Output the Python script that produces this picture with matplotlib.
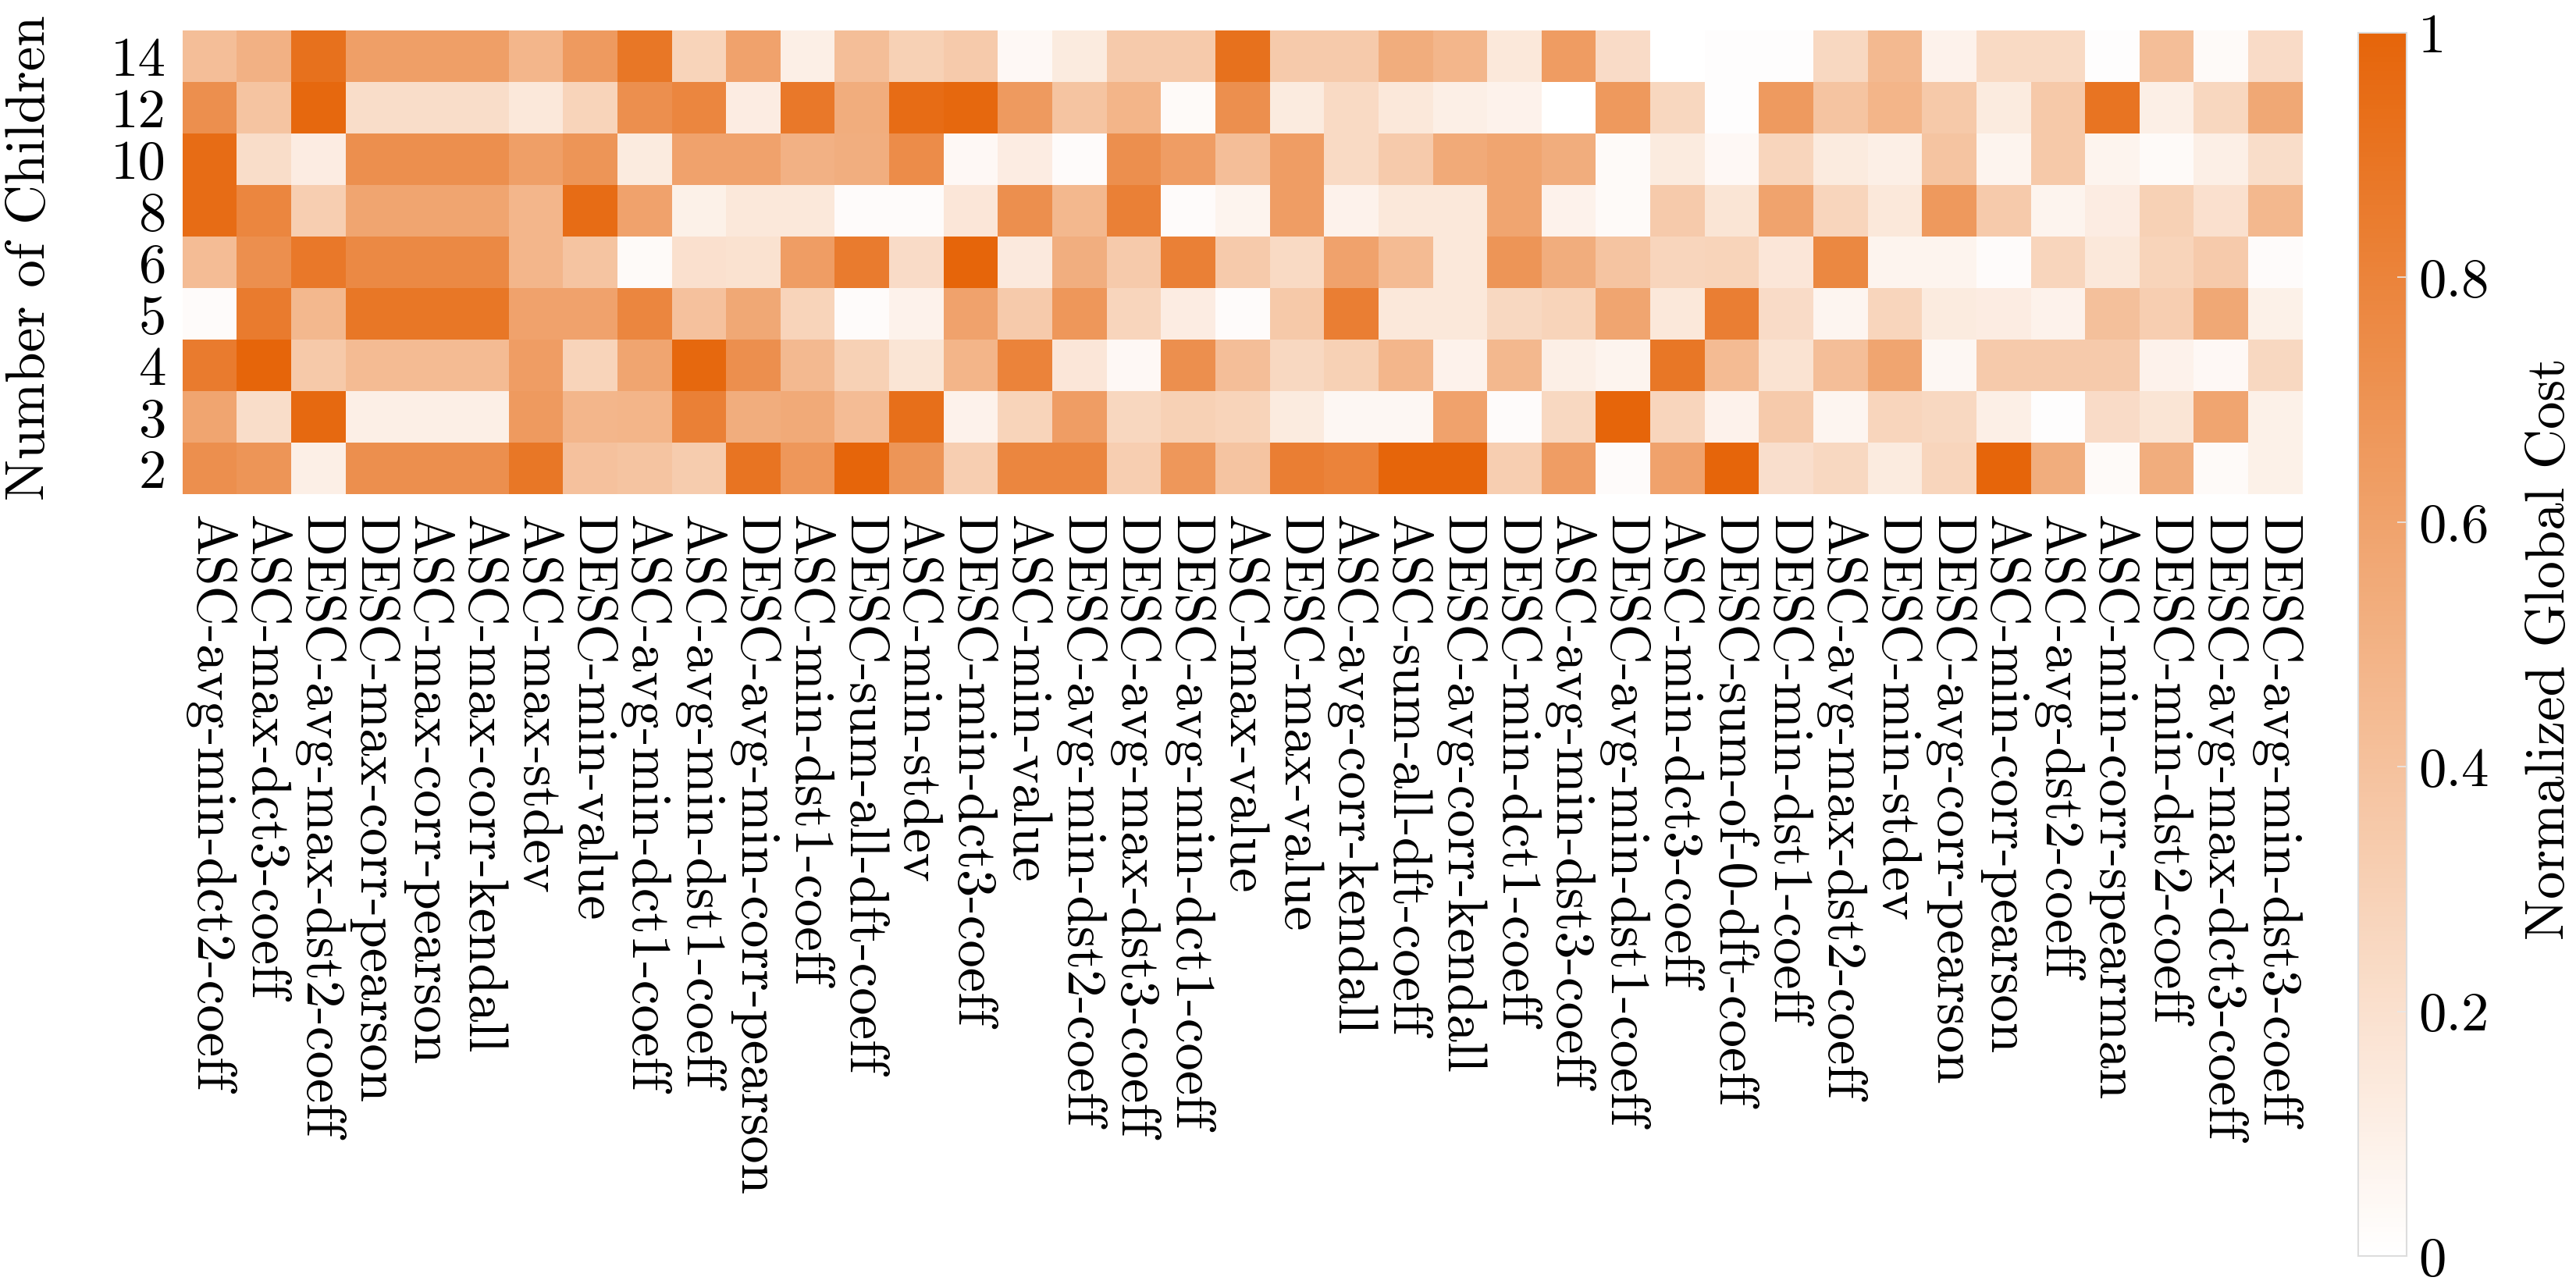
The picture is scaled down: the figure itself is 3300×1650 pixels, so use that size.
import matplotlib
matplotlib.use("Agg")
import matplotlib.pyplot as plt
import numpy as np
from matplotlib.colors import LinearSegmentedColormap

plt.rcParams['font.family'] = 'cmr10'
plt.rcParams['axes.formatter.use_mathtext'] = True

# heuristics (columns of the heatmap)
heuristics = [
    'ASC-avg-min-dct2-coeff', 'ASC-max-dct3-coeff', 'DESC-avg-max-dst2-coeff',
    'DESC-max-corr-pearson', 'ASC-max-corr-pearson', 'ASC-max-corr-kendall',
    'ASC-max-stdev', 'DESC-min-value', 'ASC-avg-min-dct1-coeff',
    'ASC-avg-min-dst1-coeff', 'DESC-avg-min-corr-pearson', 'ASC-min-dst1-coeff',
    'DESC-sum-all-dft-coeff', 'ASC-min-stdev', 'DESC-min-dct3-coeff',
    'ASC-min-value', 'DESC-avg-min-dst2-coeff', 'DESC-avg-max-dst3-coeff',
    'DESC-avg-min-dct1-coeff', 'ASC-max-value', 'DESC-max-value',
    'ASC-avg-corr-kendall', 'ASC-sum-all-dft-coeff', 'DESC-avg-corr-kendall',
    'DESC-min-dct1-coeff', 'ASC-avg-min-dst3-coeff', 'DESC-avg-min-dst1-coeff',
    'ASC-min-dct3-coeff', 'DESC-sum-of-0-dft-coeff', 'DESC-min-dst1-coeff',
    'ASC-avg-max-dst2-coeff', 'DESC-min-stdev', 'DESC-avg-corr-pearson',
    'ASC-min-corr-pearson', 'ASC-avg-dst2-coeff', 'ASC-min-corr-spearman',
    'DESC-min-dst2-coeff', 'DESC-avg-max-dct3-coeff', 'DESC-avg-min-dst3-coeff',
]

# number of children (rows, top to bottom)
children = ['14', '12', '10', '8', '6', '5', '4', '3', '2']

# normalized global cost, one list per number of children
cost_14 = [0.42, 0.50, 0.92, 0.62, 0.62, 0.62, 0.47, 0.65, 0.88, 0.28, 0.60, 0.10, 0.42,
           0.30, 0.34, 0.04, 0.13, 0.34, 0.34, 0.92, 0.34, 0.34, 0.53, 0.47, 0.15, 0.64,
           0.23, 0.00, 0.01, 0.01, 0.25, 0.45, 0.08, 0.24, 0.24, 0.01, 0.42, 0.03, 0.23]
cost_12 = [0.72, 0.38, 0.98, 0.22, 0.22, 0.22, 0.15, 0.28, 0.72, 0.78, 0.12, 0.87, 0.53,
           0.95, 0.98, 0.65, 0.38, 0.48, 0.03, 0.72, 0.13, 0.24, 0.15, 0.10, 0.08, 0.00,
           0.66, 0.26, 0.01, 0.65, 0.38, 0.48, 0.35, 0.13, 0.35, 0.90, 0.10, 0.26, 0.56]
cost_10 = [0.95, 0.22, 0.12, 0.72, 0.72, 0.72, 0.62, 0.68, 0.13, 0.60, 0.60, 0.50, 0.52,
           0.74, 0.04, 0.12, 0.02, 0.72, 0.63, 0.42, 0.63, 0.24, 0.34, 0.55, 0.58, 0.53,
           0.03, 0.13, 0.04, 0.27, 0.13, 0.10, 0.38, 0.07, 0.35, 0.07, 0.03, 0.10, 0.22]
cost_8 = [0.95, 0.78, 0.32, 0.58, 0.58, 0.58, 0.47, 0.95, 0.60, 0.09, 0.15, 0.15, 0.02,
          0.02, 0.16, 0.72, 0.46, 0.82, 0.02, 0.07, 0.63, 0.08, 0.15, 0.15, 0.58, 0.08,
          0.03, 0.34, 0.17, 0.59, 0.27, 0.15, 0.66, 0.34, 0.07, 0.12, 0.30, 0.20, 0.46]
cost_6 = [0.43, 0.72, 0.87, 0.76, 0.76, 0.76, 0.47, 0.38, 0.03, 0.20, 0.19, 0.63, 0.85,
          0.23, 1.00, 0.14, 0.52, 0.34, 0.82, 0.34, 0.24, 0.60, 0.44, 0.15, 0.68, 0.53,
          0.38, 0.27, 0.28, 0.16, 0.77, 0.07, 0.07, 0.02, 0.27, 0.15, 0.28, 0.34, 0.02]
cost_5 = [0.02, 0.85, 0.46, 0.88, 0.88, 0.88, 0.60, 0.60, 0.78, 0.40, 0.56, 0.28, 0.02,
          0.08, 0.60, 0.34, 0.67, 0.27, 0.12, 0.02, 0.35, 0.83, 0.15, 0.15, 0.25, 0.28,
          0.58, 0.15, 0.83, 0.23, 0.06, 0.27, 0.13, 0.12, 0.08, 0.41, 0.32, 0.56, 0.09]
cost_4 = [0.85, 1.00, 0.35, 0.44, 0.44, 0.44, 0.63, 0.28, 0.58, 0.98, 0.72, 0.45, 0.30,
          0.17, 0.48, 0.80, 0.16, 0.04, 0.72, 0.42, 0.25, 0.30, 0.47, 0.08, 0.46, 0.10,
          0.07, 0.88, 0.44, 0.18, 0.42, 0.58, 0.05, 0.34, 0.34, 0.34, 0.08, 0.04, 0.25]
cost_3 = [0.58, 0.22, 0.97, 0.10, 0.10, 0.10, 0.65, 0.47, 0.48, 0.82, 0.53, 0.55, 0.43,
          0.93, 0.08, 0.28, 0.63, 0.26, 0.30, 0.28, 0.13, 0.05, 0.05, 0.60, 0.02, 0.25,
          1.00, 0.27, 0.08, 0.34, 0.06, 0.27, 0.25, 0.10, 0.01, 0.23, 0.17, 0.58, 0.09]
cost_2 = [0.72, 0.68, 0.10, 0.72, 0.72, 0.72, 0.88, 0.40, 0.38, 0.33, 0.90, 0.67, 1.00,
          0.68, 0.32, 0.78, 0.78, 0.32, 0.67, 0.38, 0.83, 0.80, 1.00, 1.00, 0.32, 0.63,
          0.02, 0.60, 1.00, 0.21, 0.25, 0.13, 0.27, 1.00, 0.53, 0.03, 0.53, 0.03, 0.09]

data = np.array([cost_14, cost_12, cost_10, cost_8, cost_6, cost_5, cost_4, cost_3, cost_2])

cmap = LinearSegmentedColormap.from_list('orange', ['#ffffff', '#e6650a'])

fig = plt.figure(figsize=(22, 11), dpi=150)
ax = fig.add_axes([0.0709, 0.6164, 0.8230, 0.36])
cax = fig.add_axes([0.9155, 0.0249, 0.0188, 0.9497])

im = ax.imshow(data, cmap=cmap, vmin=0, vmax=1, aspect='auto', interpolation='nearest')

fs = 34
ax.set_xticks(np.arange(len(heuristics)))
ax.set_xticklabels(heuristics, rotation=-90, fontsize=fs, va='top', ha='center')
ax.set_yticks(np.arange(len(children)))
ax.set_yticklabels(children, fontsize=fs)
ax.tick_params(axis='x', length=0, pad=13)
ax.tick_params(axis='y', length=0, pad=10)
for s in ax.spines.values():
    s.set_visible(False)

fig.text(0.0118, 0.80, 'Number of Children', rotation=90, fontsize=fs,
         ha='center', va='center')

cbar = fig.colorbar(im, cax=cax)
cbar.set_ticks([0, 0.2, 0.4, 0.6, 0.8, 1])
cbar.set_ticklabels(['0', '0.2', '0.4', '0.6', '0.8', '1'])
cbar.ax.tick_params(labelsize=fs, direction='in', length=6, color='#e8e8e8', pad=7)
cbar.outline.set_edgecolor('#dddddd')
cbar.outline.set_linewidth(1)
fig.text(0.990, 0.496, 'Normalized Global Cost', rotation=90, fontsize=fs,
         ha='center', va='center')

fig.savefig('out.png', dpi=150)
